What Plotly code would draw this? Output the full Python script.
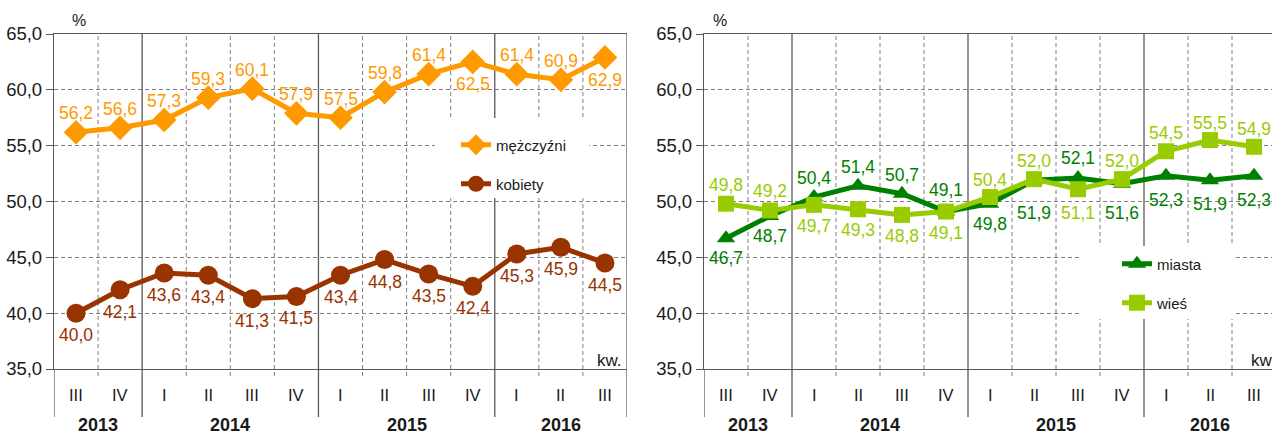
import plotly.graph_objects as go

# ---------------- data ----------------
quarters = ["III", "IV", "I", "II", "III", "IV", "I", "II", "III", "IV", "I", "II", "III"]
years = ["2013", "2014", "2015", "2016"]
year_quarter_counts = [2, 4, 4, 3]

men = [56.2, 56.6, 57.3, 59.3, 60.1, 57.9, 57.5, 59.8, 61.4, 62.5, 61.4, 60.9, 62.9]
women = [40.0, 42.1, 43.6, 43.4, 41.3, 41.5, 43.4, 44.8, 43.5, 42.4, 45.3, 45.9, 44.5]
city = [46.7, 48.7, 50.4, 51.4, 50.7, 49.1, 49.8, 51.9, 52.1, 51.6, 52.3, 51.9, 52.3]
rural = [49.8, 49.2, 49.7, 49.3, 48.8, 49.1, 50.4, 52.0, 51.1, 52.0, 54.5, 55.5, 54.9]

y_ticks = [35, 40, 45, 50, 55, 60, 65]
y_ticktext = ["35,0", "40,0", "45,0", "50,0", "55,0", "60,0", "65,0"]

# label offsets in px (positive = above the point, negative = below) - styling only
men_lbl = [19, 19, 19, 19, 19, 19, 19, 19, 19, -22, 19, 19, -23]
women_lbl = [-22] * 13
city_lbl = [-20, -20, 19, 19, 19, 22, -20, -33, 20, -29, -24, -24, -24]
rural_lbl = [19, 19, -21, -21, -21, -21, 17, 18, -24, 18, 18, 17, 18]

# ---------------- layout constants ----------------
W, H = 1272, 434
TOP, BOT = 34, 369


def py(p):
    return 1 - p / H


def px_x(p):
    return p / W


ORANGE = "#FF9900"
BROWN = "#993300"
DGREEN = "#008000"
LGREEN = "#99CC00"
AXIS = "#595959"
GRID = "#7f7f7f"
FONT = "Liberation Sans, Arial, sans-serif"

n = len(quarters)
xs = list(range(n))

fig = go.Figure()


def fmt(v):
    return f"{v:.1f}".replace(".", ",")


def add_series(vals, name, color, symbol, size, xa, ya, legend):
    fig.add_trace(go.Scatter(
        x=xs, y=vals, name=name, mode="lines+markers",
        line=dict(color=color, width=5),
        marker=dict(color=color, symbol=symbol, size=size),
        xaxis=xa, yaxis=ya, legend=legend, showlegend=True,
        cliponaxis=False, hoverinfo="skip"))


add_series(men, "mężczyźni", ORANGE, "diamond", 19, "x", "y", "legend")
add_series(women, "kobiety", BROWN, "circle", 19, "x", "y", "legend2")
add_series(city, "miasta", DGREEN, "triangle-up", 16, "x2", "y2", "legend3")
add_series(rural, "wieś", LGREEN, "square", 16, "x2", "y2", "legend4")

annotations = []
for vals, offs, color, xr, yr in [(men, men_lbl, ORANGE, "x", "y"),
                                  (women, women_lbl, BROWN, "x", "y"),
                                  (city, city_lbl, DGREEN, "x2", "y2"),
                                  (rural, rural_lbl, LGREEN, "x2", "y2")]:
    for i, v in enumerate(vals):
        annotations.append(dict(x=i, y=v, xref=xr, yref=yr, text=fmt(v),
                                showarrow=False, yshift=offs[i],
                                font=dict(family=FONT, size=17.5, color=color)))

shapes = []
for xr, left_px in [("x", 54), ("x2", 704)]:
    for i, q in enumerate(quarters):
        annotations.append(dict(x=i, y=py(395), xref=xr, yref="paper", text=q,
                                showarrow=False, yanchor="middle",
                                font=dict(family=FONT, size=16.5, color="#1a1a1a")))
    start = 0
    for yl, cnt in zip(years, year_quarter_counts):
        annotations.append(dict(x=start + (cnt - 1) / 2, y=py(425), xref=xr, yref="paper",
                                text=f"<b>{yl}</b>", showarrow=False, yanchor="middle",
                                font=dict(family=FONT, size=18, color="#1a1a1a")))
        start += cnt
    for k in range(1, n + 1):
        if k == n or quarters[k] == "I":
            shapes.append(dict(type="line", xref=xr, yref="paper", x0=k - 0.5, x1=k - 0.5,
                               y0=py(417), y1=py(TOP), layer="below",
                               line=dict(color=AXIS, width=1.3)))
        else:
            shapes.append(dict(type="line", xref=xr, yref="paper", x0=k - 0.5, x1=k - 0.5,
                               y0=py(376), y1=py(TOP), layer="below",
                               line=dict(color=GRID, width=1, dash="4px,3px")))
    shapes.append(dict(type="line", xref=xr, yref="paper", x0=-0.5, x1=-0.5,
                       y0=py(417), y1=py(BOT), layer="above",
                       line=dict(color=AXIS, width=1.3)))
    annotations.append(dict(x=px_x(left_px + 16), y=py(20), xref="paper", yref="paper",
                            text="%", showarrow=False, yanchor="middle",
                            font=dict(family=FONT, size=16, color="#1a1a1a")))

annotations.append(dict(x=px_x(624), y=py(360), xref="paper", yref="paper", text="kw.",
                        showarrow=False, xanchor="right", yanchor="middle",
                        font=dict(family=FONT, size=17, color="#1a1a1a")))
annotations.append(dict(x=px_x(1249), y=py(360), xref="paper", yref="paper", text="kw.",
                        showarrow=False, xanchor="left", yanchor="middle",
                        font=dict(family=FONT, size=17, color="#1a1a1a")))

shapes.append(dict(type="rect", xref="paper", yref="paper", x0=px_x(435), x1=px_x(589),
                   y0=py(198), y1=py(118), fillcolor="white", line=dict(width=0), layer="above"))
shapes.append(dict(type="rect", xref="paper", yref="paper", x0=px_x(1080), x1=px_x(1234),
                   y0=py(319), y1=py(246), fillcolor="white", line=dict(width=0), layer="above"))

yaxis_common = dict(range=[35, 65], domain=[py(BOT), py(TOP)], tickvals=y_ticks,
                    ticktext=y_ticktext, showgrid=True, gridcolor=GRID, gridwidth=1,
                    griddash="4px,3px", zeroline=False, showline=True, linecolor=AXIS,
                    linewidth=1.3, ticks="outside", ticklen=7, tickcolor=AXIS,
                    tickfont=dict(family=FONT, size=18.5, color="#1a1a1a"), mirror=False,
                    automargin=False)
xaxis_common = dict(showgrid=False, zeroline=False, showline=True, linecolor=AXIS,
                    linewidth=1.3, mirror=True, showticklabels=False, ticks="",
                    tickvals=xs, automargin=False)

legend_common = dict(bgcolor="rgba(0,0,0,0)", font=dict(family=FONT, size=15, color="#1a1a1a"),
                     itemwidth=30, xanchor="left", yanchor="middle", borderwidth=0)

fig.update_layout(
    width=W, height=H, margin=dict(l=0, r=0, t=0, b=0, autoexpand=False),
    paper_bgcolor="white", plot_bgcolor="white",
    xaxis=dict(xaxis_common, domain=[px_x(54), px_x(627)], range=[-0.5, n - 0.5],
               anchor="y"),
    yaxis=dict(yaxis_common, anchor="x"),
    xaxis2=dict(xaxis_common, domain=[px_x(704), 1.0],
                range=[-0.5, n - 0.5 - 4 / 44], anchor="y2"),
    yaxis2=dict(yaxis_common, anchor="x2"),
    legend=dict(legend_common, x=px_x(456), y=py(145)),
    legend2=dict(legend_common, x=px_x(456), y=py(184)),
    legend3=dict(legend_common, x=px_x(1117), y=py(264)),
    legend4=dict(legend_common, x=px_x(1117), y=py(303)),
    annotations=annotations, shapes=shapes,
)

fig.write_html("out.html", config={"displayModeBar": False},
               post_script="document.body.style.margin='0';document.body.style.overflow='hidden';")
